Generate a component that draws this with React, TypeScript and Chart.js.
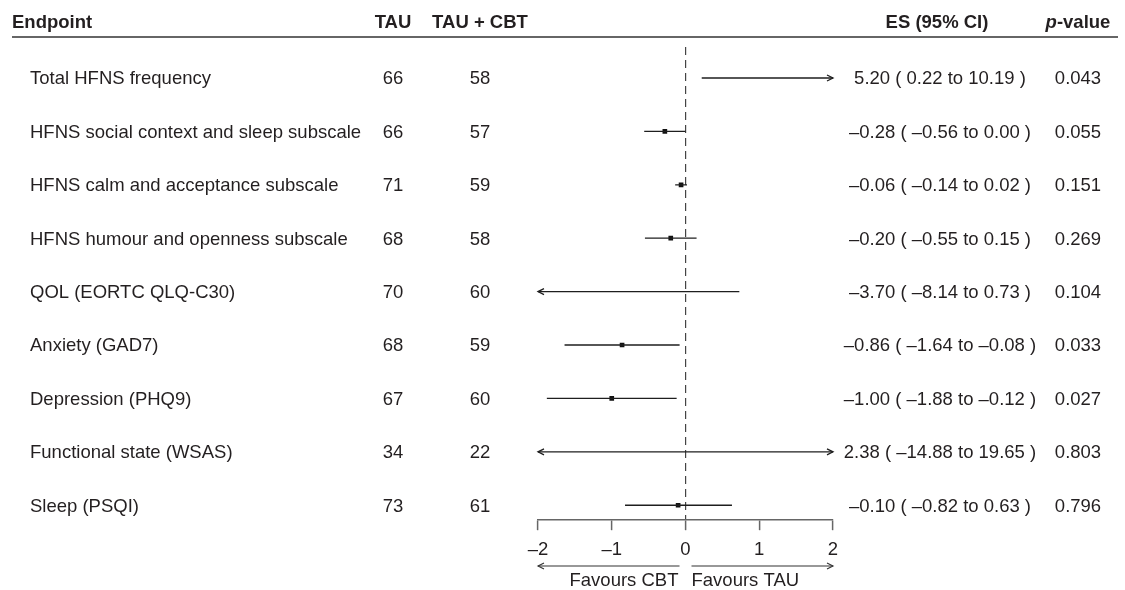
import React, { useEffect, useRef } from 'react';
import { Chart, registerables } from 'chart.js';

Chart.register(...registerables);

// ---------- data ----------
const endpoints = [
  'Total HFNS frequency',
  'HFNS social context and sleep subscale',
  'HFNS calm and acceptance subscale',
  'HFNS humour and openness subscale',
  'QOL (EORTC QLQ-C30)',
  'Anxiety (GAD7)',
  'Depression (PHQ9)',
  'Functional state (WSAS)',
  'Sleep (PSQI)',
];
const nTAU = [66, 66, 71, 68, 70, 68, 67, 34, 73];
const nTAUCBT = [58, 57, 59, 58, 60, 59, 60, 22, 61];
const effect = [5.2, -0.28, -0.06, -0.2, -3.7, -0.86, -1.0, 2.38, -0.1];
const lower = [0.22, -0.56, -0.14, -0.55, -8.14, -1.64, -1.88, -14.88, -0.82];
const upper = [10.19, 0.0, 0.02, 0.15, 0.73, -0.08, -0.12, 19.65, 0.63];
const pValues = ['0.043', '0.055', '0.151', '0.269', '0.104', '0.033', '0.027', '0.803', '0.796'];
const xTicks = [-2, -1, 0, 1, 2];
const X_MIN = -2;
const X_MAX = 2;
const Y_MIN = -0.58;
const Y_MAX = 8.28;

// ---------- style ----------
const FONT = '"Liberation Sans", Arial, Helvetica, sans-serif';
const FS = 18.5;
const TEXT = '#231f20';
const LINE = '#1e1e1e';
const AXIS = '#666666';

const dash = (s: string) => s.replace(/-/g, '\u2013');
const fmt = (v: number) => dash(v.toFixed(2));

function arrowHead(ctx: CanvasRenderingContext2D, tipX: number, y: number, dir: number) {
  ctx.beginPath();
  ctx.moveTo(tipX - dir * 6, y - 3);
  ctx.lineTo(tipX, y);
  ctx.lineTo(tipX - dir * 6, y + 3);
  ctx.stroke();
}

const forestPlugin = {
  id: 'forestText',
  afterDatasetsDraw(chart: any) {
    const { ctx, scales } = chart;
    const x = scales.x;
    const y = scales.y;
    ctx.save();
    ctx.strokeStyle = LINE;
    ctx.lineWidth = 1.3;
    endpoints.forEach((_, i) => {
      const py = y.getPixelForValue(i);
      if (lower[i] < X_MIN) arrowHead(ctx, x.getPixelForValue(X_MIN), py, -1);
      if (upper[i] > X_MAX) arrowHead(ctx, x.getPixelForValue(X_MAX), py, 1);
    });
    ctx.restore();
  },
  afterDraw(chart: any) {
    const { ctx, scales } = chart;
    const x = scales.x;
    const y = scales.y;
    ctx.save();
    ctx.fillStyle = TEXT;
    ctx.textBaseline = 'alphabetic';

    // header
    const HEAD_BASE = 28;
    ctx.font = `bold ${FS}px ${FONT}`;
    ctx.textAlign = 'left';
    ctx.fillText('Endpoint', 12, HEAD_BASE);
    ctx.textAlign = 'center';
    ctx.fillText('TAU', 393, HEAD_BASE);
    ctx.fillText('TAU + CBT', 480, HEAD_BASE);
    ctx.fillText('ES (95% CI)', 937, HEAD_BASE);
    // p-value with italic p
    ctx.textAlign = 'left';
    ctx.font = `italic bold ${FS}px ${FONT}`;
    const wp = ctx.measureText('p').width;
    ctx.font = `bold ${FS}px ${FONT}`;
    const wv = ctx.measureText('-value').width;
    const px0 = 1078 - (wp + wv) / 2;
    ctx.font = `italic bold ${FS}px ${FONT}`;
    ctx.fillText('p', px0, HEAD_BASE);
    ctx.font = `bold ${FS}px ${FONT}`;
    ctx.fillText('-value', px0 + wp, HEAD_BASE);

    // rule
    ctx.strokeStyle = AXIS;
    ctx.lineWidth = 2;
    ctx.beginPath();
    ctx.moveTo(12, 37);
    ctx.lineTo(1118, 37);
    ctx.stroke();

    // rows
    ctx.font = `${FS}px ${FONT}`;
    endpoints.forEach((label, i) => {
      const base = y.getPixelForValue(i) + 6.3;
      ctx.textAlign = 'left';
      ctx.fillText(label, 30, base);
      ctx.textAlign = 'center';
      ctx.fillText(String(nTAU[i]), 393, base);
      ctx.fillText(String(nTAUCBT[i]), 480, base);
      ctx.fillText(`${fmt(effect[i])} ( ${fmt(lower[i])} to ${fmt(upper[i])} )`, 940, base);
      ctx.fillText(pValues[i], 1078, base);
    });

    // favours arrows
    const x0 = x.getPixelForValue(0);
    const xl = x.getPixelForValue(X_MIN);
    const xr = x.getPixelForValue(X_MAX);
    const AY = 566;
    ctx.strokeStyle = '#333';
    ctx.lineWidth = 1.1;
    ctx.beginPath();
    ctx.moveTo(x0 - 6, AY);
    ctx.lineTo(xl, AY);
    ctx.moveTo(x0 + 6, AY);
    ctx.lineTo(xr, AY);
    ctx.stroke();
    arrowHead(ctx, xl, AY, -1);
    arrowHead(ctx, xr, AY, 1);
    ctx.textAlign = 'right';
    ctx.fillText('Favours CBT', x0 - 7, 586);
    ctx.textAlign = 'left';
    ctx.fillText('Favours TAU', x0 + 6, 586);
    ctx.restore();
  },
};

export default function App() {
  const ref = useRef<HTMLCanvasElement>(null);
  useEffect(() => {
    document.body.style.margin = '0';
    if (!ref.current) return;
    const ciSets = endpoints.map((_, i) => ({
      type: 'scatter' as const,
      data: [
        { x: lower[i], y: i },
        { x: upper[i], y: i },
      ],
      showLine: true,
      borderColor: LINE,
      borderWidth: 1.3,
      pointRadius: 0,
      pointHoverRadius: 0,
    }));
    const pointSet = {
      type: 'scatter' as const,
      data: effect.map((v, i) => ({ x: v, y: i })),
      showLine: false,
      pointStyle: 'rect',
      pointRadius: 3.3,
      pointBorderWidth: 0,
      backgroundColor: '#111',
      borderColor: '#111',
    };
    const chart = new Chart(ref.current, {
      type: 'scatter',
      data: { datasets: [...ciSets, pointSet] as any },
      plugins: [forestPlugin],
      options: {
        animation: false,
        responsive: false,
        devicePixelRatio: 1,
        layout: { padding: { left: 538, right: 292, top: 47, bottom: 19.6 } },
        plugins: { legend: { display: false }, tooltip: { enabled: false } },
        events: [],
        scales: {
          x: {
            type: 'linear',
            min: X_MIN,
            max: X_MAX,
            afterBuildTicks: (axis: any) => {
              axis.ticks = xTicks.map((v) => ({ value: v }));
            },
            grid: {
              drawOnChartArea: true,
              drawTicks: true,
              tickLength: 10,
              tickWidth: 1.5,
              tickColor: AXIS,
              lineWidth: 1.2,
              color: (c: any) => (c.tick && c.tick.value === 0 ? '#444' : 'rgba(0,0,0,0)'),
            },
            border: { display: true, color: AXIS, width: 1.5, dash: [8, 5] },
            ticks: {
              color: TEXT,
              padding: 9,
              font: { family: FONT, size: FS },
              callback: (v: any) => dash(String(v)),
            },
          },
          y: {
            type: 'linear',
            min: Y_MIN,
            max: Y_MAX,
            reverse: true,
            display: false,
          },
        },
      } as any,
    });
    return () => chart.destroy();
  }, []);
  return <canvas ref={ref} width={1125} height={590} style={{ display: 'block' }} />;
}
